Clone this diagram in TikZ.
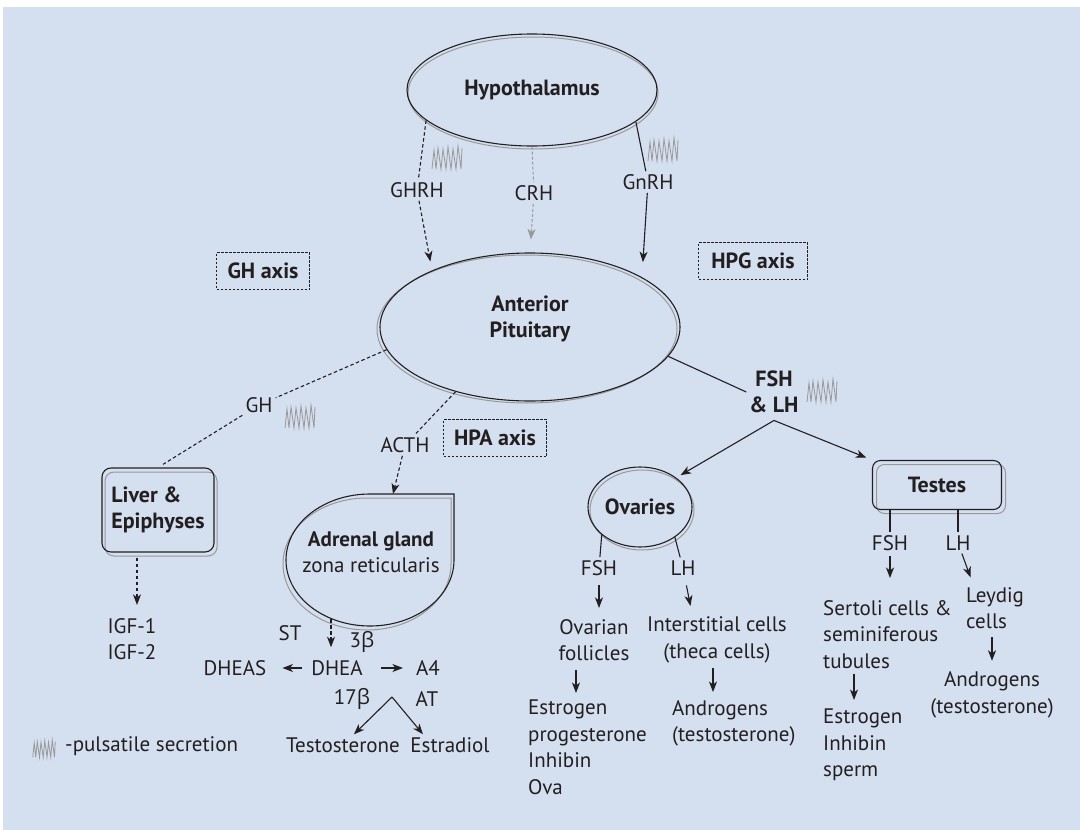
\documentclass[tikz,border=0pt]{standalone}
\usepackage{fontspec}
\setmainfont{PT Sans}
\newfontfamily\greekfont{Open Sans}
\usetikzlibrary{arrows.meta,shapes.geometric}
\definecolor{panel}{HTML}{D4DFF0}
\definecolor{ink}{HTML}{231F20}
\definecolor{rimgray}{HTML}{999999}
\newcommand{\bta}{{\greekfont β}}
\tikzset{
  lbl/.style={text=ink,inner sep=3pt,font=\fontsize{21}{26.5}\selectfont},
  blbl/.style={lbl,font=\fontsize{22}{26.5}\selectfont\bfseries},
  rim/.style={preaction={draw=rimgray,line width=1pt,transform canvas={shift={#1}}}},
  organ/.style={ellipse,draw=ink,line width=1.1pt,blbl,inner sep=0pt},
  gland/.style={rectangle,rounded corners=9pt,draw=ink,line width=1.1pt,blbl},
  axisbox/.style={draw=ink,line width=0.9pt,dash pattern=on 2.5pt off 1.5pt,blbl,minimum height=37pt},
  link/.style={draw=ink,line width=1.1pt},
  dlink/.style={link,dash pattern=on 3.5pt off 2.5pt},
  glink/.style={draw=rimgray,line width=1pt,dash pattern=on 3pt off 2pt},
  arr/.style={-{Stealth[length=10.5pt,width=8pt,inset=3pt]}},
  pulse/.pic={\draw[rimgray,line width=0.8pt]
    (-15,11) -- (-13,-8) -- (-11,11) -- (-9,-10) -- (-6,11) -- (-4,-9) -- (-1,11)
    -- (1,-11) -- (4,11) -- (6,-9) -- (9,11) -- (11,-12) -- (14,11) -- (15,-10);}
}
\begin{document}
\begin{tikzpicture}[x=1pt,y=-1pt]
  \useasboundingbox (0,0) rectangle (1080,830);
  \fill[panel] (3,7) rectangle (1080,830);

  \node[organ,minimum width=250pt,minimum height=112pt,rim={(1pt,-3pt)}] (hyp) at (532,90) {Hypothalamus};
  \node[organ,minimum width=300pt,minimum height=148pt,align=center,rim={(-3pt,-2pt)}] (ant) at (530,327) {Anterior\\Pituitary\\[-6pt]\mbox{}};
  \node[lbl] (ghrh) at (417,190) {GHRH};
  \node[lbl] (crh) at (534,193) {CRH};
  \node[lbl] (gnrh) at (648,182) {GnRH};
  \node[axisbox,minimum width=93pt] (ghax) at (263,271) {GH axis};
  \node[axisbox,minimum width=109pt] (hpgax) at (753,261) {HPG axis};
  \node[axisbox,minimum width=103pt] (hpaax) at (495,438) {HPA axis};
  \node[lbl] (gh) at (259,405) {GH};
  \node[lbl] (acth) at (405,445) {ACTH};
  \node[blbl,align=center] (fsh) at (774,392) {FSH\\\& LH};
  \coordinate (fshsplit) at ([yshift=-4pt]fsh.south);

  \node[gland,align=left,minimum width=112pt,minimum height=84pt,rim={(3pt,-4pt)}] (liver) at (158,510) {Liver \&\\Epiphyses};
  \node[lbl,align=left] (igf) at (132,639) {IGF-1\\IGF-2};

  \draw[link,rim={(-3pt,-4pt)}] (454,560) arc[start angle=0,end angle=270,x radius=84,y radius=66] -- (454,494) -- cycle;
  \node[lbl,align=center] (adr) at (371,552) {\textbf{Adrenal gland}\\zona reticularis};
  \coordinate (adrtop) at (393,494);
  \coordinate (adrbot) at (331,619);
  \node[lbl] (st) at (290,633) {ST};
  \node[lbl] (b3) at (362,642) {3\bta};
  \node[lbl] (dhea) at (337,668) {DHEA};
  \node[lbl] (dheas) at (235,668) {DHEAS};
  \node[lbl] (a4) at (428,668) {A4};
  \node[lbl] (b17) at (352,699) {17\bta};
  \node[lbl] (arom) at (427,699) {AT};
  \coordinate (asplit) at (392,697);
  \node[lbl] (testo) at (343,745) {Testosterone};
  \node[lbl] (estr) at (450,745) {Estradiol};

  \node[organ,minimum width=104pt,minimum height=80pt,rim={(2pt,-3pt)}] (ov) at (640,507) {Ovaries};
  \node[lbl] (fshov) at (599,568) {FSH};
  \node[lbl] (lhov) at (683,568) {LH};
  \node[lbl,align=center] (folli) at (594,640) {Ovarian\\follicles};
  \node[lbl,align=center] (inter) at (717,640) {Interstitial cells\\(theca cells)};
  \node[lbl,align=left,anchor=north west] (ovout) at (525,697) {Estrogen\\progesterone\\Inhibin\\Ova};
  \node[lbl,align=left,anchor=north west] (andro1) at (669,697) {Androgens\\(testosterone)};

  \node[gland,minimum width=129pt,minimum height=49pt,rounded corners=8pt,rim={(4pt,-4pt)}] (testes) at (937,485) {Testes};
  \node[lbl] (fshte) at (890,543) {FSH};
  \node[lbl] (lhte) at (958,543) {LH};
  \node[lbl,align=left,anchor=north west] (serto) at (820,597) {Sertoli cells \&\\seminiferous\\tubules};
  \node[lbl,align=left,anchor=north west] (teout) at (820,706) {Estrogen\\Inhibin\\sperm};
  \node[lbl,align=left,anchor=north west] (leydig) at (963,584) {Leydig\\cells};
  \node[lbl,align=center] (andro2) at (992,695) {Androgens\\(testosterone)};

  \pic at (447,158) {pulse};
  \pic at (663,150) {pulse};
  \pic at (300,417) {pulse};
  \pic at (822,391) {pulse};
  \pic[scale=0.75] at (44,749) {pulse};
  \node[lbl,anchor=west] (legend) at (62,746) {-pulsatile secretion};

  \begin{scope}[arr]
    \draw[dlink,-] (hyp.196) -- (ghrh);
    \draw[dlink,shorten >=9pt] (ghrh) -- (ant.150);
    \draw[glink,-] (hyp.south) -- (crh);
    \draw[glink,shorten >=13pt] (crh) -- (ant.north);
    \draw[link,-] (hyp.-17) -- (gnrh);
    \draw[link,shorten >=15pt] (gnrh) -- (ant.24);
    \draw[dlink,-] (ant.189) -- (gh);
    \draw[dlink,-,shorten >=6pt] (gh) -- (liver.north);
    \draw[dlink,shorten <=5pt,shorten >=10pt] ([xshift=-21pt]liver.south) -- ([xshift=-21pt]liver.south |- igf.north);
    \draw[dlink,-] (ant.221) -- (acth);
    \draw[dlink] (acth) -- (adrtop);
    \draw[dlink,shorten >=10pt] (adrbot) -- (adrbot |- dhea.north);
    \draw[link,shorten <=6pt,shorten >=13pt] (dhea) -- (dheas);
    \draw[link,shorten <=15pt,shorten >=10pt] (dhea) -- (a4);
    \draw[link] (asplit) -- (testo);
    \draw[link] (asplit) -- ([xshift=-27pt]estr.north);
    \draw[link,-] (ant.-12) -- (fsh.west);
    \draw[link,shorten >=5pt] (fshsplit) -- (ov.39);
    \draw[link,shorten >=6pt] (fshsplit) -- (testes.north west);
    \draw[link,-] (ov.216) -- (fshov);
    \draw[link,-] (ov.-41) -- (lhov);
    \draw[link,shorten <=6pt,shorten >=8pt] (fshov) -- (fshov |- folli.north);
    \draw[link,shorten <=7pt,shorten >=8pt] (lhov) -- ([xshift=-25pt]inter.north);
    \draw[link,shorten <=6pt,shorten >=4pt] ([xshift=-18pt]folli.south) -- ([xshift=-18pt]folli.south |- ovout.north);
    \draw[link,shorten <=2pt,shorten >=5pt] ([xshift=-4pt]inter.south) -- ([xshift=-4pt]inter.south |- andro1.north);
    \draw[link,-] ([xshift=-47pt]testes.south) -- (fshte);
    \draw[link,-] ([xshift=21pt]testes.south) -- (lhte);
    \draw[link,shorten <=2pt,shorten >=19pt] (fshte) -- (fshte |- serto.north);
    \draw[link,shorten >=7pt] (lhte) -- ([xshift=10pt]leydig.north west);
    \draw[link,shorten <=2pt,shorten >=6pt] ([xshift=34pt]serto.south west) -- ([xshift=34pt]serto.south west |- teout.north);
    \draw[link,shorten <=5pt,shorten >=8pt] (leydig.south -| andro2.north) -- (andro2.north);
  \end{scope}
\end{tikzpicture}
\end{document}
